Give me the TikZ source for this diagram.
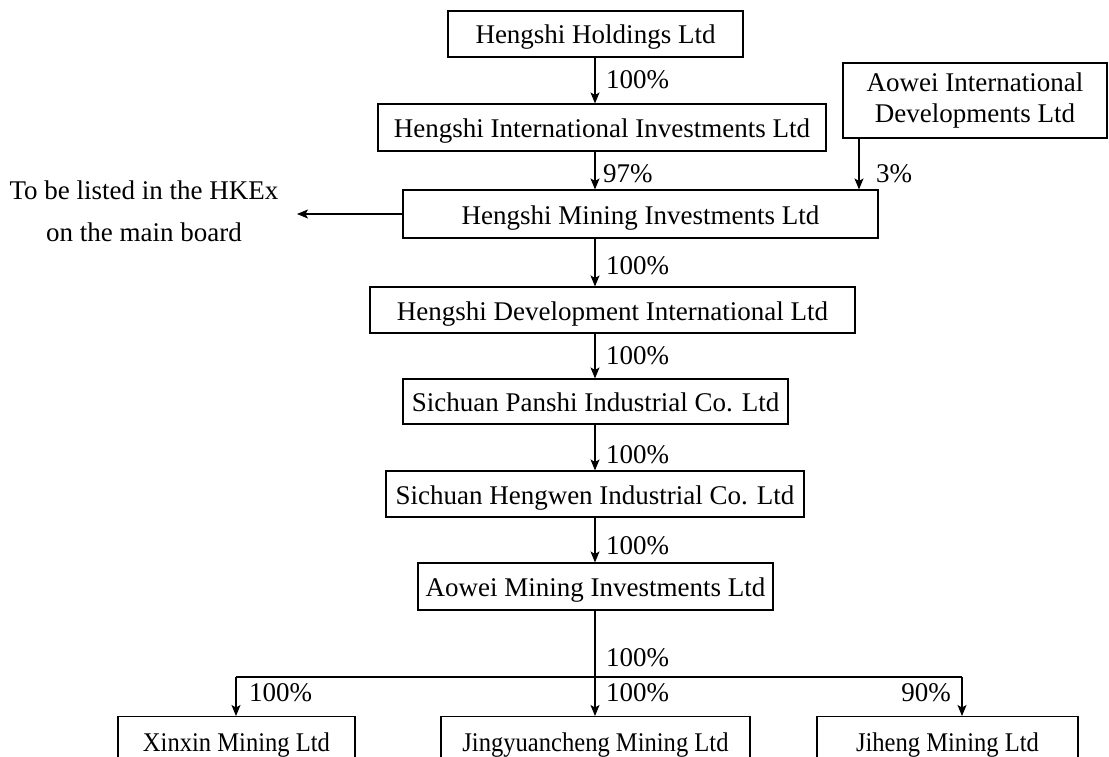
\documentclass[tikz,border=0pt]{standalone}
\usepackage{fontspec}
\setmainfont{Liberation Serif}
\newfontfamily\condfont[FakeStretch=0.91]{Liberation Serif}
\usetikzlibrary{arrows.meta}
\begin{document}
\begin{tikzpicture}[x=1pt,y=-1pt,
  box/.style={draw,line width=1.1pt,inner sep=0pt,minimum height=46pt,text height=20pt,text depth=0pt,font=\fontsize{27}{31}\selectfont},
  mbox/.style={draw,line width=1.1pt,inner sep=0pt,align=center,font=\fontsize{27}{31}\selectfont},
  cbox/.style={box,font=\fontsize{27}{31}\condfont},
  arr/.style={line width=1.1pt,-{Stealth[length=11pt,width=9pt,inset=2.5pt]}},
  pct/.style={font=\fontsize{27}{31}\selectfont,inner sep=0pt},
  lbl/.style={font=\fontsize{27}{42}\selectfont,align=center,inner sep=0pt}]
\useasboundingbox (0,0) rectangle (1109,757);
\clip (0,0) rectangle (1109,757);
\coordinate (spine) at (595,0);
\node[box,minimum width=295pt] (hold) at (595.5,34) {Hengshi Holdings Ltd};
\node[box,minimum width=448pt,minimum height=47pt] (intl) at (602,127.5) {Hengshi International Investments Ltd};
\node[mbox,minimum width=264pt,minimum height=75pt] (aowintl) at (975,100.5) {Aowei International\\Developments Ltd};
\node[box,minimum width=475pt,minimum height=48pt] (mining) at (640.5,214) {Hengshi Mining Investments Ltd};
\node[box,minimum width=485pt] (dev) at (612.5,310) {Hengshi Development International Ltd};
\node[box,minimum width=385pt,minimum height=45pt] (panshi) at (595.5,401.5) {Sichuan Panshi Industrial Co. Ltd};
\node[box,minimum width=418pt] (hengwen) at (595,494) {Sichuan Hengwen Industrial Co. Ltd};
\node[box,minimum width=355pt,minimum height=47pt] (aowmin) at (595.5,586.5) {Aowei Mining Investments Ltd};
\node[cbox,minimum width=237pt,minimum height=50pt,anchor=north] (xinxin) at (236.5,716) {Xinxin Mining Ltd};
\node[cbox,minimum width=309pt,minimum height=50pt,anchor=north] (jing) at (595.5,716) {Jingyuancheng Mining Ltd};
\node[cbox,minimum width=261pt,minimum height=50pt,anchor=north] (jiheng) at (947.5,716) {Jiheng Mining Ltd};
\node[lbl] (list) at (144,211) {To be listed in the HKEx\\on the main board};
\coordinate (listend) at (297,214);
% arrows
\draw[arr] (hold.south -| spine) -- (intl.north -| spine);
\node[pct,anchor=west] (p1) at (606,80) {100\%};
\draw[arr] (intl.south -| spine) -- (mining.north -| spine);
\node[pct,anchor=west] (p2) at (603,174) {97\%};
\coordinate (sx) at (859,0);
\draw[arr] (aowintl.south -| sx) -- (mining.north -| sx);
\node[pct,anchor=west] (p3) at (876,174) {3\%};
\draw[arr] (mining.west) -- (listend);
\draw[arr] (mining.south -| spine) -- (dev.north -| spine);
\node[pct,anchor=west] (p4) at (606,266) {100\%};
\draw[arr] (dev.south -| spine) -- (panshi.north -| spine);
\node[pct,anchor=west] (p5) at (606,356) {100\%};
\draw[arr] (panshi.south -| spine) -- (hengwen.north -| spine);
\node[pct,anchor=west] (p6) at (606,455) {100\%};
\draw[arr] (hengwen.south -| spine) -- (aowmin.north -| spine);
\node[pct,anchor=west] (p7) at (606,546) {100\%};
\draw[arr] (aowmin.south -| spine) -- (jing.north -| spine);
\node[pct,anchor=west] (p8) at (606,658) {100\%};
\coordinate (hl) at (236,677);
\coordinate (hr) at (962,677);
\draw[line width=1.1pt] (hl) -- (hr);
\draw[arr] (hl) -- (xinxin.north -| hl);
\draw[arr] (hr) -- (jiheng.north -| hr);
\node[pct,anchor=west] (p9) at (249,693) {100\%};
\node[pct,anchor=west] (p10) at (606,693) {100\%};
\node[pct,anchor=east] (p11) at (951,693) {90\%};
\end{tikzpicture}
\end{document}
